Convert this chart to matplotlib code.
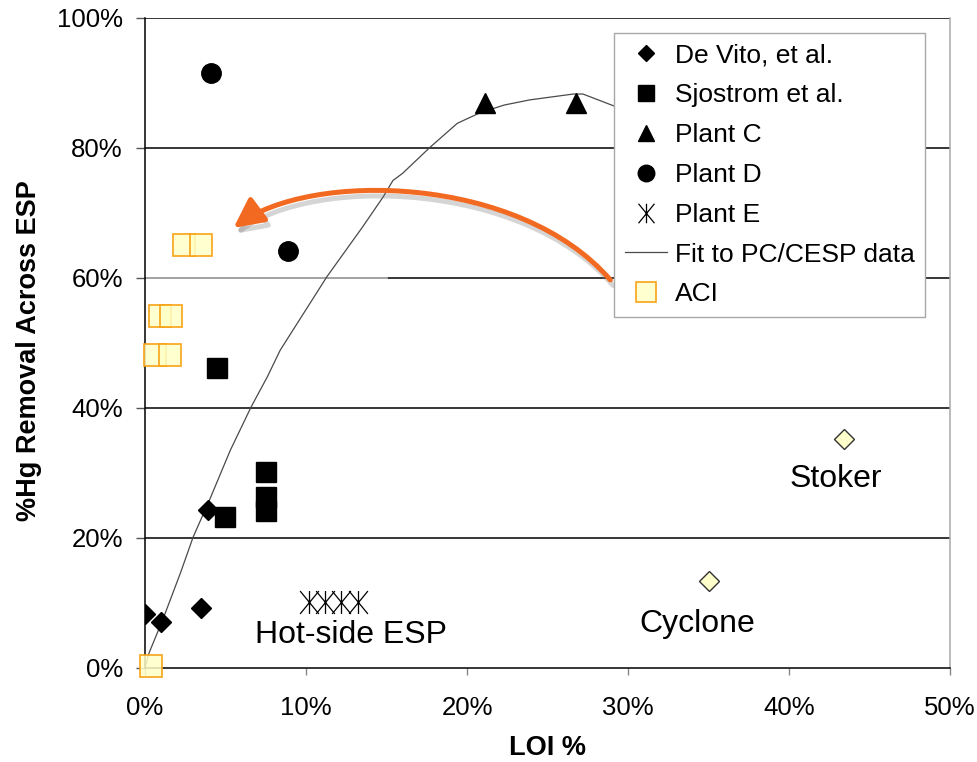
import matplotlib
matplotlib.use('Agg')
import matplotlib.pyplot as plt
import matplotlib.patches as mpatches
import matplotlib.patheffects as pe
from matplotlib.path import Path
from matplotlib.ticker import PercentFormatter

plt.rcParams['font.family'] = ['Liberation Sans', 'DejaVu Sans']

# ── Data (LOI %, Hg removal %) ────────────────────────────────────────────────
devito_x = [0.0, 1.0, 3.5, 3.9]
devito_y = [8.3, 7.1, 9.2, 24.3]

sjostrom_x = [4.5, 5.0, 7.5, 7.5, 7.5]
sjostrom_y = [46.2, 23.2, 30.2, 26.3, 24.2]

plantc_x = [21.1, 26.8]
plantc_y = [86.9, 86.9]

plantd_x = [4.1, 8.9]
plantd_y = [91.5, 64.2]

plante_x = [10.2, 11.2, 12.2, 13.2]
plante_y = [10.2, 10.2, 10.2, 10.2]

fit_x = [0, 0.25, 1.1, 2.2, 3.0, 4.0, 5.3, 6.6, 7.6, 8.4, 11.3, 13.5, 14.8,
         15.4, 16.0, 17.7, 19.4, 20.8, 22.3, 23.9, 26.6, 27.2, 29.3, 30.5]
fit_y = [0, 2.3, 7.4, 14.6, 20.2, 25.8, 33.5, 40.2, 44.8, 48.9, 60.2, 67.8, 72.5,
         75.0, 76.1, 80.1, 83.8, 85.4, 86.6, 87.4, 88.3, 88.3, 86.3, 85.0]

aci_x = [0.4, 0.6, 1.55, 0.95, 1.6, 2.4, 3.5]
aci_y = [0.3, 48.2, 48.2, 54.2, 54.2, 65.1, 65.1]

other_x = [43.4, 35.0]          # stoker, cyclone
other_y = [35.2, 13.4]
other_labels = ['Stoker', 'Cyclone']
other_label_pos = [(42.9, 29.1), (34.3, 6.8)]

# ── Figure ───────────────────────────────────────────────────────────────────
fig = plt.figure(figsize=(9.77, 7.62), dpi=100)
ax = fig.add_axes([0.1484, 0.1234, 0.8240, 0.8530])

pct = lambda v: [a / 100 for a in v]

ax.set_xlim(0, 0.5)
ax.set_ylim(0, 1.0)
ax.set_xticks([0, 0.1, 0.2, 0.3, 0.4, 0.5])
ax.set_yticks([0, 0.2, 0.4, 0.6, 0.8, 1.0])
ax.xaxis.set_major_formatter(PercentFormatter(1.0, decimals=0))
ax.yaxis.set_major_formatter(PercentFormatter(1.0, decimals=0))

for yv in [0.2, 0.4, 0.6, 0.8, 1.0]:
    ax.axhline(yv, color='black', lw=1.1, zorder=1)
# lighter stretch on the 60% line, as in the source slide
ax.axhline(0.6, xmin=0, xmax=(387 - 145) / 805, color='#b0b0b0', lw=1.3, zorder=1.1)

ax.spines['top'].set_visible(False)
ax.spines['right'].set_color('#a8a8a8')
ax.spines['left'].set_color('black')
ax.spines['bottom'].set_color('black')
for s in ['left', 'bottom', 'right']:
    ax.spines[s].set_linewidth(1.1)

ax.tick_params(axis='x', direction='out', length=5, width=1, color='#888888',
               labelsize=18.5, pad=15)
ax.tick_params(axis='y', direction='out', length=6.5, width=1, color='#555555',
               labelsize=18.5, pad=9.5)

# fit curve
h_fit, = ax.plot(pct(fit_x), pct(fit_y), color='#4a4a4a', lw=0.9, zorder=2,
                 label='Fit to PC/CESP data')

# asterisk marker for Plant E
star = Path([(-0.82, -1), (0.82, 1), (-0.82, 1), (0.82, -1), (0, -1), (0, 1)],
            [Path.MOVETO, Path.LINETO] * 3)

h_dv, = ax.plot(pct(devito_x), pct(devito_y), 'D', ms=9.7, color='black',
                ls='none', zorder=4, label='De Vito, et al.')
h_sj, = ax.plot(pct(sjostrom_x), pct(sjostrom_y), 's', ms=14, color='black',
                ls='none', zorder=4, label='Sjostrom et al.')
h_pc, = ax.plot(pct(plantc_x), pct(plantc_y), '^', ms=14, color='black',
                ls='none', zorder=4, label='Plant C')
h_pd, = ax.plot(pct(plantd_x), pct(plantd_y), 'o', ms=14, color='black',
                ls='none', zorder=4, label='Plant D')
h_pe, = ax.plot(pct(plante_x), pct(plante_y), marker=star, ms=16.5, ls='none',
                mec='black', mfc='none', mew=0.9, zorder=4, label='Plant E')
h_aci, = ax.plot(pct(aci_x), pct(aci_y), 's', ms=16.5, ls='none',
                 mfc=(1, 1, 0.78, 0.85), mec=(0.97, 0.63, 0.08, 0.9), mew=1.3,
                 zorder=5, label='ACI', clip_on=False)
ax.plot(pct(other_x), pct(other_y), 'D', ms=10, ls='none', mfc='#ffffcc',
        mec='#333333', mew=1, zorder=4)

for lab, (lx, ly) in zip(other_labels, other_label_pos):
    ax.text(lx / 100, ly / 100, lab, fontsize=23, ha='center', va='center')
ax.text(0.128, 0.051, 'Hot-side ESP', fontsize=23, ha='center', va='center')

# orange curved arrow with soft shadow
p0, c1, c2, p3 = (28.9, 59.7), (23.3, 75.8), (10.3, 76.6), (5.5, 67.7)
arrow_path = Path([pct(p0), pct(c1), pct(c2), pct(p3)],
                  [Path.MOVETO, Path.CURVE4, Path.CURVE4, Path.CURVE4])
arr = mpatches.FancyArrowPatch(path=arrow_path,
                               arrowstyle='-|>,head_length=0.9,head_width=0.45',
                               mutation_scale=20, color='#f26a21', lw=3.6,
                               transform=ax.transData, zorder=6)
arr.set_path_effects([pe.SimpleLineShadow(offset=(2, -4), shadow_color='#777777', alpha=0.3),
                      pe.Normal()])
ax.add_patch(arr)

# legend
leg = ax.legend(handles=[h_dv, h_sj, h_pc, h_pd, h_pe, h_fit, h_aci],
                loc='upper right', bbox_to_anchor=(0.969, 0.977), borderaxespad=0,
                fontsize=19, frameon=True, fancybox=False, framealpha=1,
                edgecolor='#a8a8a8', labelspacing=0.6, handlelength=1.6,
                handletextpad=0.3, borderpad=0.4, markerscale=0.85)
leg.get_frame().set_linewidth(1.0)
leg.set_zorder(10)

ax.set_xlabel('LOI %', fontsize=19.5, fontweight='bold')
ax.set_ylabel('%Hg Removal Across ESP', fontsize=19.5, fontweight='bold')
ax.xaxis.set_label_coords(0.5, -0.103)
ax.yaxis.set_label_coords(-0.128, 0.488)

plt.savefig('out.png', dpi=100)
plt.close()
print('saved')
